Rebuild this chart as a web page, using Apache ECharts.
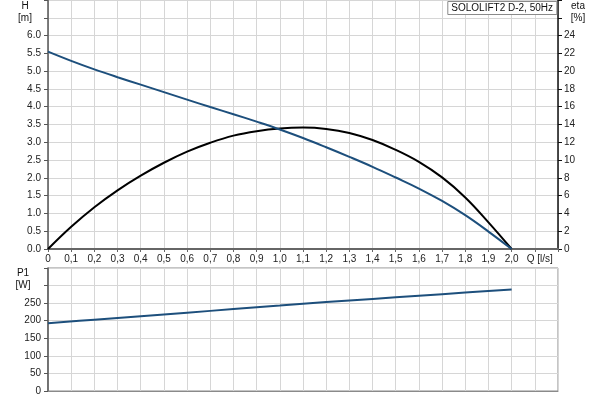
<!DOCTYPE html>
<html>
<head>
<meta charset="utf-8">
<script src="https://cdn.jsdelivr.net/npm/echarts@6/dist/echarts.min.js"></script>
<style>html,body{margin:0;padding:0;background:#fff}#c{width:600px;height:400px}</style>
</head>
<body>
<div id="c"></div>
<script>
// ---- data ----
const flowQ = [0, 0.1, 0.2, 0.3, 0.4, 0.5, 0.6, 0.7, 0.8, 0.9, 1.0, 1.1, 1.2, 1.3, 1.4, 1.5, 1.6, 1.7, 1.8, 1.9, 2.0];
const headH = [5.55, 5.29, 5.05, 4.83, 4.62, 4.41, 4.20, 3.99, 3.79, 3.58, 3.36, 3.12, 2.86, 2.59, 2.31, 2.01, 1.70, 1.35, 0.95, 0.49, 0.0];
const effEta = [0, 2.5, 4.7, 6.6, 8.25, 9.7, 10.95, 11.95, 12.75, 13.25, 13.55, 13.65, 13.5, 13.05, 12.25, 11.15, 9.8, 8.05, 5.8, 3.0, 0];
const powerQ = [0, 0.2, 0.4, 0.6, 0.8, 1.0, 1.2, 1.4, 1.6, 1.8, 2.0];
const powerP1 = [193, 203, 213, 223, 233, 243, 253, 262, 271, 280, 289];
const qTickLabels = ['0', '0,1', '0,2', '0,3', '0,4', '0,5', '0,6', '0,7', '0,8', '0,9', '1,0', '1,1', '1,2', '1,3', '1,4', '1,5', '1,6', '1,7', '1,8', '1,9', '2,0', '{q|Q [l/s]}', ''];
const hTickLabels = ['0.0', '0.5', '1.0', '1.5', '2.0', '2.5', '3.0', '3.5', '4.0', '4.5', '5.0', '5.5', '6.0', '', ''];
const etaTickLabels = ['0', '2', '4', '6', '8', '10', '12', '14', '16', '18', '20', '22', '24', '', ''];
const p1TickLabels = ['0', '50', '100', '150', '200', '250', '', ''];
const legendText = 'SOLOLIFT2 D-2, 50Hz';

const FONT = '"Liberation Sans", Arial, sans-serif';
const pair = (xs, ys) => xs.map((x, i) => [x, ys[i]]);
const gridCol = '#d6d6d6';
const titleStyle = (t) => ({text: t, font: '10px ' + FONT, fill: '#111', lineHeight: 12, align: 'center', verticalAlign: 'top'});

const chart = echarts.init(document.getElementById('c'), null, {renderer: 'canvas'});
chart.setOption({
  animation: false,
  backgroundColor: '#fff',
  title: {
    text: legendText, right: 43, top: 1,
    borderColor: '#8a8a8a', borderWidth: 1, padding: [2, 4, 1, 4], backgroundColor: '#fff',
    textStyle: {fontSize: 10, fontWeight: 'normal', color: '#111', fontFamily: FONT, lineHeight: 11}
  },
  graphic: [
    {type: 'text', x: 25, y: 0, style: titleStyle('H\n[m]')},
    {type: 'text', x: 578, y: 0, style: titleStyle('eta\n[%]')},
    {type: 'text', x: 23, y: 267, style: titleStyle('P1\n[W]')}
  ],
  grid: [
    {left: 48, width: 510, top: 0, height: 249, show: false},
    {left: 48, width: 510, top: 268, height: 123, show: true, borderColor: '#8a8a8a', borderWidth: 1, backgroundColor: 'transparent'}
  ],
  xAxis: [
    {
      type: 'value', gridIndex: 0, min: 0, max: 2.2, interval: 0.1,
      axisLine: {show: true, onZero: false, lineStyle: {color: '#666', width: 2}},
      axisTick: {show: true, length: 3, lineStyle: {color: '#666'}},
      splitLine: {show: true, lineStyle: {color: gridCol, width: 1}},
      axisLabel: {
        margin: 5, fontSize: 10, color: '#222', fontFamily: FONT, showMaxLabel: true,
        formatter: v => qTickLabels[Math.round(v * 10)] || '',
        rich: {q: {fontSize: 10, color: '#222', fontFamily: FONT, padding: [0, 0, 0, 10]}}
      }
    },
    {
      type: 'value', gridIndex: 1, min: 0, max: 2.2, interval: 0.1,
      axisLine: {show: true, onZero: false, lineStyle: {color: '#8a8a8a', width: 1}},
      axisTick: {show: false},
      axisLabel: {show: false},
      splitLine: {show: true, lineStyle: {color: gridCol, width: 1}}
    }
  ],
  yAxis: [
    {
      type: 'value', gridIndex: 0, min: 0, max: 7, interval: 0.5, position: 'left',
      axisLine: {show: true, onZero: false, lineStyle: {color: '#555', width: 1.5}},
      axisTick: {show: true, length: 4, lineStyle: {color: '#555'}},
      splitLine: {show: true, lineStyle: {color: gridCol, width: 1}},
      axisLabel: {margin: 7, fontSize: 10, color: '#222', fontFamily: FONT,
        formatter: v => hTickLabels[Math.round(v * 2)] || ''}
    },
    {
      type: 'value', gridIndex: 0, min: 0, max: 28, interval: 2, position: 'right',
      axisLine: {show: true, onZero: false, lineStyle: {color: '#111', width: 1.5}},
      axisTick: {show: true, length: 4, lineStyle: {color: '#111'}},
      splitLine: {show: false},
      axisLabel: {margin: 6, fontSize: 10, color: '#222', fontFamily: FONT,
        formatter: v => etaTickLabels[Math.round(v / 2)] || ''}
    },
    {
      type: 'value', gridIndex: 1, min: 0, max: 350, interval: 50, position: 'left',
      axisLine: {show: true, onZero: false, lineStyle: {color: '#555', width: 1.5}},
      axisTick: {show: true, length: 4, lineStyle: {color: '#555'}},
      splitLine: {show: true, lineStyle: {color: gridCol, width: 1}},
      axisLabel: {margin: 7, fontSize: 10, color: '#222', fontFamily: FONT,
        formatter: v => p1TickLabels[Math.round(v / 50)] || ''}
    }
  ],
  series: [
    {
      name: 'eta', type: 'line', xAxisIndex: 0, yAxisIndex: 1, data: pair(flowQ, effEta),
      smooth: 0.4, showSymbol: false, lineStyle: {color: '#000', width: 2}, z: 3
    },
    {
      name: 'H', type: 'line', xAxisIndex: 0, yAxisIndex: 0, data: pair(flowQ, headH),
      smooth: 0.4, showSymbol: false, lineStyle: {color: '#1d4f7c', width: 2}, z: 4
    },
    {
      name: 'P1', type: 'line', xAxisIndex: 1, yAxisIndex: 2, data: pair(powerQ, powerP1),
      smooth: 0.4, showSymbol: false, lineStyle: {color: '#1d4f7c', width: 2}, z: 4
    }
  ]
});
</script>
</body>
</html>
